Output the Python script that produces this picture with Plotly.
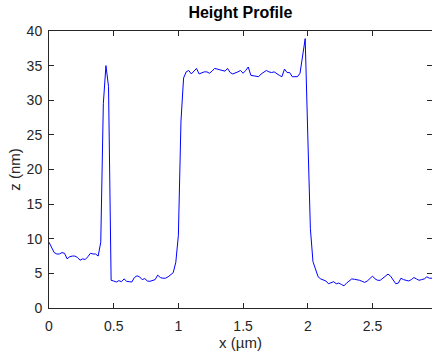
import plotly.graph_objects as go

x_um = [0.00, 0.02, 0.04, 0.06, 0.08, 0.10, 0.12, 0.14, 0.16, 0.18,
        0.20, 0.22, 0.24, 0.26, 0.28, 0.30, 0.32, 0.34, 0.36, 0.38,
        0.40, 0.42, 0.44, 0.46, 0.48, 0.50, 0.52, 0.54, 0.56, 0.58,
        0.60, 0.62, 0.64, 0.66, 0.68, 0.70, 0.72, 0.74, 0.76, 0.78,
        0.80, 0.82, 0.84, 0.86, 0.88, 0.90, 0.92, 0.94, 0.96, 0.98,
        1.00, 1.02, 1.04, 1.06, 1.08, 1.10, 1.12, 1.14, 1.16, 1.18,
        1.20, 1.22, 1.24, 1.26, 1.28, 1.30, 1.32, 1.34, 1.36, 1.38,
        1.40, 1.42, 1.44, 1.46, 1.48, 1.50, 1.52, 1.54, 1.56, 1.58,
        1.60, 1.62, 1.64, 1.66, 1.68, 1.70, 1.72, 1.74, 1.76, 1.78,
        1.80, 1.82, 1.84, 1.86, 1.88, 1.90, 1.92, 1.94, 1.96, 1.98,
        2.00, 2.02, 2.04, 2.06, 2.08, 2.10, 2.12, 2.14, 2.16, 2.18,
        2.20, 2.22, 2.24, 2.26, 2.28, 2.30, 2.32, 2.34, 2.36, 2.38,
        2.40, 2.42, 2.44, 2.46, 2.48, 2.50, 2.52, 2.54, 2.56, 2.58,
        2.60, 2.62, 2.64, 2.66, 2.68, 2.70, 2.72, 2.74, 2.76, 2.78,
        2.80, 2.82, 2.84, 2.86, 2.88, 2.90, 2.92, 2.94, 2.96]

z_nm = [9.5, 8.8, 8.0, 7.8, 7.8, 8.0, 7.9, 7.1, 7.4, 7.5,
        7.5, 7.3, 6.9, 7.1, 7.0, 7.4, 7.9, 7.8, 7.8, 7.5,
        9.5, 29.5, 35.0, 32.0, 4.0, 3.9, 3.75, 3.95, 3.8, 4.2,
        3.85, 3.8, 3.75, 4.4, 4.65, 4.5, 4.1, 4.25, 3.9, 3.85,
        3.95, 4.1, 4.75, 4.4, 4.3, 4.3, 4.5, 4.8, 5.1, 6.6,
        10.5, 27.0, 33.2, 34.1, 34.3, 33.8, 34.2, 34.6, 33.8, 34.0,
        34.1, 34.1, 33.9, 34.2, 34.6, 34.5, 34.4, 34.2, 34.2, 34.6,
        34.0, 33.8, 33.9, 34.1, 34.3, 33.9, 34.3, 34.8, 33.6, 33.5,
        33.5, 33.4, 33.8, 34.0, 34.3, 34.1, 34.0, 34.1, 33.8, 33.6,
        33.4, 34.5, 34.0, 34.0, 33.4, 33.4, 33.4, 33.9, 36.5, 38.9,
        25.0, 11.5, 6.7, 5.5, 4.5, 4.2, 4.0, 3.9, 3.5, 3.6,
        3.8, 3.5, 3.6, 3.4, 3.2, 3.6, 3.9, 4.2, 4.15, 4.1,
        4.0, 3.85, 3.7, 3.9, 4.2, 4.6, 4.2, 4.0, 4.0, 4.3,
        4.5, 4.9, 4.6, 4.0, 3.5, 3.6, 4.3, 4.1, 4.0, 3.9,
        4.1, 4.4, 4.2, 4.0, 4.1, 4.2, 4.5, 4.3, 4.3]

x_ticks = [0, 0.5, 1, 1.5, 2, 2.5]
x_tick_text = ["0", "0.5", "1", "1.5", "2", "2.5"]
y_ticks = [0, 5, 10, 15, 20, 25, 30, 35, 40]

AX = "#262626"
FONT = "Liberation Sans, Arial, sans-serif"

fig = go.Figure()
fig.add_trace(go.Scatter(x=x_um, y=z_nm, mode="lines",
                         line=dict(color="#0000ff", width=1),
                         showlegend=False, hoverinfo="skip"))

fig.update_layout(
    width=432, height=352,
    margin=dict(l=49, r=0, t=31, b=44, autoexpand=False),
    paper_bgcolor="white", plot_bgcolor="white",
    font=dict(family=FONT, size=14, color=AX),
    title=dict(text="<b>Height Profile</b>", x=0.5565, xanchor="center",
               y=1 - 12 / 352, yref="container", yanchor="middle",
               font=dict(family=FONT, size=16, color="black")),
)
fig.update_xaxes(range=[0, 2.96], tickvals=x_ticks, ticktext=x_tick_text,
                 showline=True, linecolor=AX, linewidth=1, mirror="ticks",
                 ticks="inside", ticklen=5, tickcolor=AX, showgrid=False,
                 zeroline=False, ticklabelstandoff=5, automargin=False,
                 tickfont=dict(size=14),
                 title=dict(text="x (µm)", standoff=1,
                            font=dict(family=FONT, size=15, color=AX)))
fig.update_yaxes(range=[0, 40], tickvals=y_ticks,
                 showline=True, linecolor=AX, linewidth=1, mirror="ticks",
                 ticks="inside", ticklen=5, tickcolor=AX, showgrid=False,
                 zeroline=False, ticklabelstandoff=3, automargin=False,
                 tickfont=dict(size=14),
                 title=dict(text="z (nm)", standoff=2,
                            font=dict(family=FONT, size=15, color=AX)))

fig.write_html("out.html", config={"displayModeBar": False},
               post_script="document.body.style.margin='0';")
